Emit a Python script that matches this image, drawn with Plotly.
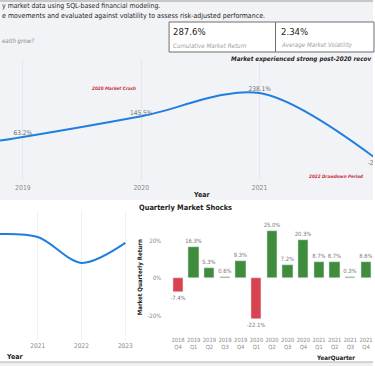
import plotly.graph_objects as go

W, H = 375, 366
def X(px): return px / W
def Y(py): return 1 - py / H

# ---- data ----
years_main = [2018, 2019, 2020, 2021, 2022]
cum_return = [-7.4, 63.2, 145.5, 238.1, -28.5]
cum_labels = ["", "63.2%", "145.5%", "238.1%", "-28.5%"]

years_vol = [2020, 2021, 2022, 2023]
volatility = [2.88, 2.80, 2.06, 2.63]

quarters = ["2018<br>Q4", "2019<br>Q1", "2019<br>Q2", "2019<br>Q3", "2019<br>Q4",
            "2020<br>Q1", "2020<br>Q2", "2020<br>Q3", "2020<br>Q4",
            "2021<br>Q1", "2021<br>Q2", "2021<br>Q3", "2021<br>Q4"]
q_returns = [-7.4, 16.3, 5.3, 0.6, 9.3, -22.1, 25.0, 7.2, 20.3, 8.7, 8.7, 0.3, 8.6]

kpi_values = ["287.6%", "2.34%"]
kpi_names = ["Cumulative Market Return", "Average Market Volatility"]

NARROW = "Liberation Sans Narrow, DejaVu Sans Condensed, sans-serif"
COND = "DejaVu Sans Condensed, Liberation Sans Narrow, sans-serif"
BLUE = "#1f7fe0"
GREEN = "#3f8c3c"
RED = "#d9434f"
TICK = "#8a8a8a"

fig = go.Figure()

# main cumulative line
fig.add_trace(go.Scatter(
    x=years_main, y=cum_return, mode="lines+text", text=cum_labels,
    textposition=["top center", "top center", "top center", "top center", "bottom center"],
    textfont=dict(size=6.5, color="#707070", family=NARROW),
    line=dict(color=BLUE, width=2, shape="spline", smoothing=0.9),
    xaxis="x", yaxis="y", cliponaxis=True, showlegend=False, hoverinfo="skip"))

# bottom-left volatility line
fig.add_trace(go.Scatter(
    x=years_vol, y=volatility, mode="lines",
    line=dict(color=BLUE, width=2, shape="spline", smoothing=0.9),
    xaxis="x2", yaxis="y2", showlegend=False, hoverinfo="skip"))

# quarterly bars
fig.add_trace(go.Bar(
    x=list(range(len(quarters))), y=q_returns,
    marker_color=[GREEN if v >= 0 else RED for v in q_returns],
    width=0.64,
    text=[f"{v:.1f}%" for v in q_returns], textposition="outside",
    constraintext="none",
    textfont=dict(size=5.8, color="#7a7a7a", family=NARROW),
    cliponaxis=False,
    xaxis="x3", yaxis="y3", showlegend=False, hoverinfo="skip"))

# main axes: 2019 at 23px, 2021 at 261px
ppy = (261 - 23) / 2
x0 = 2019 - 23 / ppy
x1 = x0 + 375 / ppy
yt, yb = 60, 180
k = (238.1 - 63.2) / (137 - 93)
ytop_v = 63.2 + (137 - yt) * k
ybot_v = 63.2 - (yb - 137) * k

# bottom-left axes
ppy2 = 44
bx0 = 2021 - 38 / ppy2
bx_right = 132
bx1 = bx0 + bx_right / ppy2
vk = 35

# bar axes
bw = 15.75
bar_left = 179 - bw / 2
by_top, by_bot = 215, 335
pp = 1.875

fig.update_layout(
    width=W, height=H, margin=dict(l=0, r=0, t=0, b=0),
    paper_bgcolor="white", plot_bgcolor="rgba(0,0,0,0)",
    font=dict(family=NARROW, color="#333"),
    bargap=0,
    xaxis=dict(domain=[0, 1], range=[x0, x1], anchor="y", showgrid=True,
               gridcolor="#e6e7ec", gridwidth=1, zeroline=False, showline=False,
               tickvals=[2019, 2020, 2021], ticks="", ticklabelstandoff=2,
               tickfont=dict(size=6.8, color=TICK, family=NARROW)),
    yaxis=dict(domain=[Y(yb), Y(yt)], range=[ybot_v, ytop_v], visible=False, anchor="x"),
    xaxis2=dict(domain=[0, X(bx_right)], range=[bx0, bx1], anchor="y2", showgrid=True,
                gridcolor="#f1f1f3", zeroline=False, showline=False,
                tickvals=[2020, 2021, 2022, 2023], ticks="",
                tickfont=dict(size=6.5, color=TICK, family=NARROW)),
    yaxis2=dict(domain=[Y(340), Y(210)], range=[-(340 - 335) / vk, (335 - 210) / vk],
                visible=False, anchor="x2"),
    xaxis3=dict(domain=[X(bar_left), 1], range=[-0.5, -0.5 + (375 - bar_left) / bw], anchor="y3",
                tickvals=list(range(len(quarters))), ticktext=quarters, ticks="",
                showgrid=False, zeroline=False, showline=False,
                tickfont=dict(size=5.8, color=TICK, family=NARROW), tickangle=0),
    yaxis3=dict(domain=[Y(by_bot), Y(by_top)], range=[-(by_bot - 278) / pp, (278 - by_top) / pp],
                anchor="x3", tickvals=[-20, 0, 20], ticktext=["-20%", "0%", "20%"],
                showgrid=False, zeroline=False, showline=False, ticks="",
                ticklabelstandoff=8,
                tickfont=dict(size=6, color=TICK, family=NARROW)),
)

shapes = [
    dict(type="rect", xref="paper", yref="paper", x0=0, x1=1, y0=Y(200), y1=1,
         fillcolor="#f2f3f7", line_width=0, layer="below"),
    dict(type="line", xref="paper", yref="paper", x0=0, x1=1, y0=Y(1), y1=Y(1),
         line=dict(color="#c8c8c8", width=2)),
    dict(type="rect", xref="paper", yref="paper", x0=0, x1=1, y0=0, y1=Y(362),
         fillcolor="#f0f0f0", line_width=0, layer="below"),
    dict(type="line", xref="paper", yref="paper", x0=0, x1=1, y0=Y(362), y1=Y(362),
         line=dict(color="#b0b0b0", width=1)),
    dict(type="rect", xref="paper", yref="paper", x0=X(170), x1=X(277), y0=Y(52), y1=Y(22),
         fillcolor="white", line=dict(color="#6e6e6e", width=1), layer="below"),
    dict(type="rect", xref="paper", yref="paper", x0=X(277), x1=X(376), y0=Y(52), y1=Y(22),
         fillcolor="white", line=dict(color="#6e6e6e", width=1), layer="below"),
]
fig.update_layout(shapes=shapes)

def ann(text, x, y, size, color="#252423", xanchor="left", bold=False, italic=False,
        family=NARROW, textangle=0):
    t = text
    if bold:
        t = f"<b>{t}</b>"
    if italic:
        t = f"<i>{t}</i>"
    fig.add_annotation(text=t, x=X(x), y=Y(y), xref="paper", yref="paper",
                       xanchor=xanchor, yanchor="middle", showarrow=False,
                       font=dict(size=size, color=color, family=family),
                       textangle=textangle)

ann("y market data using SQL-based financial modeling.", 0, 6, 6.9)
ann("e movements and evaluated against volatility to assess risk-adjusted performance.", 0, 16, 7)
ann("ealth grow?", 0, 41, 6.1, color="#8a8a8a", italic=True)
ann(kpi_values[0], 172, 32, 9.5, color="#252423", family=COND)
ann(kpi_names[0], 172, 45, 6.2, color="#a0a0a0", italic=True)
ann(kpi_values[1], 280, 32, 9.5, color="#252423", family=COND)
ann(kpi_names[1], 280, 45, 6.2, color="#a0a0a0", italic=True)
ann("Market experienced strong post-2020 recov", 375, 59, 6.3, xanchor="right", bold=True, italic=True)
ann("2020 Market Crash", 115, 89, 4.6, color="#c8303c", xanchor="center", bold=True, italic=True)
ann("2022 Drawdown Period", 338, 176, 4.6, color="#c8303c", xanchor="center", bold=True, italic=True)
ann("Year", 203, 195, 7, xanchor="center", bold=True)
ann("Year", 15, 357, 7, xanchor="center", bold=True)
ann("YearQuarter", 337, 357, 6.2, xanchor="center", bold=True)
ann("Quarterly Market Shocks", 138, 207, 7.4, bold=True, family=COND)
ann("Market Quarterly Return", 141, 277, 6.1, xanchor="center", bold=True, textangle=-90)

fig.write_html("out.html", config={"displayModeBar": False},
               post_script="document.body.style.margin='0';document.body.style.overflow='hidden';")
